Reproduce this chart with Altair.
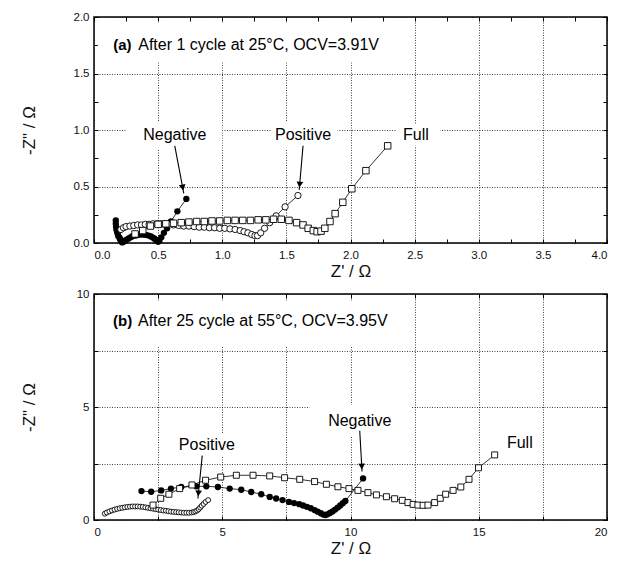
import altair as alt
import pandas as pd

FONT = "Liberation Sans"

# ---------------- Panel (a): after 1 cycle at 25 C ----------------
a_neg_x = [0.17, 0.17, 0.172, 0.175, 0.18, 0.185, 0.19, 0.20, 0.205, 0.21, 0.215, 0.22, 0.23, 0.24,
           0.255, 0.27, 0.285, 0.30, 0.32, 0.34, 0.36, 0.38, 0.40, 0.42, 0.44, 0.455, 0.47, 0.48,
           0.49, 0.50, 0.51, 0.525, 0.545, 0.57, 0.60, 0.65, 0.72]
a_neg_y = [0.20, 0.17, 0.145, 0.12, 0.10, 0.08, 0.06, 0.045, 0.03, 0.02, 0.01, 0.005, 0.01, 0.02,
           0.03, 0.04, 0.05, 0.06, 0.065, 0.07, 0.075, 0.075, 0.072, 0.068, 0.06, 0.05, 0.04, 0.03,
           0.02, 0.01, 0.02, 0.05, 0.09, 0.13, 0.19, 0.28, 0.39]

a_pos_x = [0.21, 0.23, 0.25, 0.28, 0.31, 0.34, 0.37, 0.40, 0.43, 0.46, 0.49, 0.52, 0.55, 0.58,
           0.62, 0.66, 0.70, 0.74, 0.78, 0.82, 0.86, 0.90, 0.94, 0.98, 1.02, 1.06, 1.10, 1.14,
           1.17, 1.20, 1.23, 1.255, 1.275, 1.30, 1.33, 1.37, 1.42, 1.49, 1.59]
a_pos_y = [0.12, 0.135, 0.145, 0.15, 0.155, 0.16, 0.16, 0.165, 0.165, 0.17, 0.17, 0.17, 0.165,
           0.165, 0.16, 0.155, 0.15, 0.15, 0.145, 0.14, 0.14, 0.135, 0.135, 0.13, 0.13, 0.125,
           0.12, 0.11, 0.10, 0.09, 0.075, 0.065, 0.065, 0.09, 0.13, 0.18, 0.24, 0.32, 0.42]

a_full_x = [0.32, 0.38, 0.44, 0.50, 0.56, 0.62, 0.68, 0.74, 0.80, 0.86, 0.92, 0.98, 1.04, 1.10,
            1.16, 1.22, 1.28, 1.34, 1.40, 1.46, 1.52, 1.58, 1.63, 1.67, 1.71, 1.74, 1.77, 1.80,
            1.84, 1.88, 1.94, 2.01, 2.12, 2.29]
a_full_y = [0.08, 0.11, 0.15, 0.165, 0.17, 0.175, 0.18, 0.185, 0.19, 0.19, 0.195, 0.195, 0.20,
            0.20, 0.20, 0.20, 0.205, 0.205, 0.21, 0.21, 0.20, 0.18, 0.16, 0.13, 0.11, 0.10, 0.105,
            0.13, 0.19, 0.26, 0.36, 0.48, 0.64, 0.86]

# ---------------- Panel (b): after 25 cycles at 55 C ----------------
b_neg_x = [1.85, 2.23, 2.62, 3.0, 3.4, 3.99, 4.38, 4.83, 5.29, 5.74, 6.13, 6.52, 6.85, 7.1, 7.35,
           7.6, 7.8, 8.0, 8.15, 8.3, 8.45, 8.6, 8.72, 8.84, 8.94, 9.02, 9.1, 9.2, 9.3, 9.4, 9.5,
           9.6, 9.7, 9.8, 10.49]
b_neg_y = [1.28, 1.25, 1.31, 1.39, 1.46, 1.49, 1.49, 1.46, 1.39, 1.34, 1.24, 1.14, 1.02, 0.95,
           0.88, 0.80, 0.75, 0.70, 0.64, 0.58, 0.52, 0.44, 0.37, 0.30, 0.24, 0.22, 0.25, 0.31,
           0.38, 0.46, 0.55, 0.64, 0.74, 0.84, 1.84]

b_pos_x = [0.42, 0.5, 0.6, 0.7, 0.8, 0.9, 1.0, 1.1, 1.2, 1.3, 1.4, 1.5, 1.6, 1.7, 1.8, 1.9, 2.0,
           2.1, 2.2, 2.3, 2.4, 2.5, 2.6, 2.7, 2.8, 2.9, 3.0, 3.1, 3.2, 3.3, 3.4, 3.5, 3.6, 3.7,
           3.8, 3.88, 3.95, 4.02, 4.08, 4.14, 4.2, 4.27, 4.35, 4.45]
b_pos_y = [0.28, 0.33, 0.38, 0.42, 0.46, 0.49, 0.52, 0.54, 0.56, 0.58, 0.59, 0.60, 0.60, 0.60,
           0.59, 0.58, 0.56, 0.54, 0.52, 0.50, 0.48, 0.46, 0.44, 0.42, 0.41, 0.39, 0.37, 0.36,
           0.35, 0.34, 0.33, 0.32, 0.32, 0.32, 0.33, 0.35, 0.38, 0.42, 0.48, 0.55, 0.63, 0.71,
           0.80, 0.88]

b_full_x = [2.3, 2.6, 2.92, 3.34, 3.82, 4.35, 4.94, 5.55, 6.2, 6.85, 7.43, 8.02, 8.6, 9.06, 9.51,
            9.94, 10.29, 10.68, 11.01, 11.4, 11.72, 12.02, 12.24, 12.44, 12.63, 12.83, 13.02,
            13.28, 13.5, 13.71, 14.0, 14.3, 14.62, 14.99, 15.62]
b_full_y = [0.66, 0.96, 1.14, 1.39, 1.55, 1.76, 1.90, 1.98, 1.98, 1.95, 1.87, 1.80, 1.70, 1.58,
            1.47, 1.39, 1.31, 1.21, 1.11, 1.03, 0.94, 0.87, 0.77, 0.69, 0.66, 0.65, 0.66, 0.77,
            0.96, 1.14, 1.31, 1.46, 1.80, 2.31, 2.88]

# ---------------- axes ----------------
a_x_domain = [0, 4]
a_y_domain = [0, 2]
a_x_grid = [0.0, 0.5, 1.0, 1.5, 2.0, 2.5, 3.0, 3.5, 4.0]
a_y_grid = [0.0, 0.5, 1.0, 1.5, 2.0]
a_x_minor = [i * 0.25 for i in range(17)]
a_y_minor = [i * 0.25 for i in range(9)]

b_x_domain = [0, 20]
b_y_domain = [0, 10]
b_x_grid = [0, 2.5, 5, 7.5, 10, 12.5, 15, 17.5, 20]
b_y_grid = [0, 2.5, 5, 7.5, 10]

x_title = "Z' / Ω"
y_title = '-Z" / Ω'

# ---------------- annotations ----------------
a_tag, a_text = "(a)", "After 1 cycle at 25°C, OCV=3.91V"
a_text_x, a_text_y = 0.15, 1.75
b_tag, b_text = "(b)", "After 25 cycle at 55°C, OCV=3.95V"
b_text_x, b_text_y = 0.74, 8.8

a_lab = ["Negative", "Positive", "Full"]
a_lab_x = [0.63, 1.63, 2.51]
a_lab_y = [0.955, 0.955, 0.955]
a_arr_x = [0.63, 1.63]
a_arr_y = [0.86, 0.86]
a_arr_x2 = [0.70, 1.60]
a_arr_y2 = [0.44, 0.47]
a_arr_ang = [349, 5]

b_lab = ["Negative", "Positive", "Full"]
b_lab_x = [10.36, 4.4, 16.6]
b_lab_y = [4.38, 3.3, 3.42]
b_arr_x = [10.36, 4.22]
b_arr_y = [3.95, 2.85]
b_arr_x2 = [10.45, 4.05]
b_arr_y2 = [2.15, 0.95]
b_arr_ang = [357, 6]

# white masks behind the text (hide the dotted grid there)
a_box_x0 = [0.03, 0.25, 1.38, 2.36]
a_box_x1 = [2.40, 1.00, 1.90, 2.70]
a_box_y0 = [1.60, 0.83, 0.83, 0.86]
a_box_y1 = [1.95, 1.08, 1.08, 1.05]
b_box_x0 = [0.15, 8.40, 3.1, 15.8]
b_box_x1 = [12.2, 12.4, 5.8, 17.4]
b_box_y0 = [7.7, 3.7, 2.79, 3.0]
b_box_y1 = [9.7, 5.1, 3.85, 3.9]

TXT = 16


def sdf(xs, ys, name):
    return pd.DataFrame({"x": xs, "y": ys, "i": list(range(len(xs))), "s": name})


def tick_axis(orient, values):
    return alt.Axis(orient=orient, values=values, ticks=True, tickSize=4, tickWidth=1,
                    tickColor="black", labels=False, domain=False, grid=False, title=None,
                    offset=-4)


def panel(neg, pos, full, xdom, ydom, xgrid, ygrid, xminor, yminor, xlabexpr, ylabexpr,
          boxes, labs, arrs, tag, text, tx, ty, sizes):
    xs = alt.Scale(domain=xdom, nice=False, zero=False)
    ys = alt.Scale(domain=ydom, nice=False, zero=False)
    x_main = alt.Axis(orient="bottom", values=xgrid, labelExpr=xlabexpr, grid=True,
                      gridDash=[1, 1.5], gridColor="#111", gridWidth=0.8, ticks=False,
                      domain=False, labelFont=FONT, labelFontSize=11.5, labelColor="#111",
                      labelPadding=6, title=x_title, titleFont=FONT, titleFontSize=17,
                      titleFontWeight="normal", titlePadding=3, titleColor="#111")
    y_main = alt.Axis(orient="left", values=ygrid, labelExpr=ylabexpr, grid=True,
                      gridDash=[1, 1.5], gridColor="#111", gridWidth=0.8, ticks=False,
                      domain=False, labelFont=FONT, labelFontSize=11.5, labelColor="#111",
                      labelPadding=5, title=y_title, titleFont=FONT, titleFontSize=17,
                      titleFontWeight="normal", minExtent=25, maxExtent=25,
                      titlePadding=31, titleColor="#111")

    box_df = pd.DataFrame({"x0": boxes[0], "x1": boxes[1], "y0": boxes[2], "y1": boxes[3]})
    box = alt.Chart(box_df).mark_rect(fill="white", strokeWidth=0).encode(
        x=alt.X("x0:Q", scale=xs, axis=x_main), x2="x1:Q",
        y=alt.Y("y0:Q", scale=ys, axis=y_main), y2="y1:Q")

    all_df = pd.concat([neg, pos, full], ignore_index=True)
    lines = alt.Chart(all_df).mark_line(color="black", strokeWidth=0.8).encode(
        x=alt.X("x:Q", scale=xs, axis=tick_axis("bottom", xminor)),
        y=alt.Y("y:Q", scale=ys, axis=tick_axis("left", yminor)),
        detail="s:N", order="i:Q")

    p_neg = alt.Chart(neg).mark_point(shape="circle", filled=True, color="black",
                                      size=sizes[0], opacity=1).encode(
        x=alt.X("x:Q", scale=xs, axis=tick_axis("top", xminor)),
        y=alt.Y("y:Q", scale=ys, axis=tick_axis("right", yminor)))
    p_pos = alt.Chart(pos).mark_point(shape="circle", filled=True, fill="white",
                                      stroke="black", strokeWidth=0.9, size=sizes[1],
                                      opacity=1).encode(
        x=alt.X("x:Q", scale=xs, axis=None), y=alt.Y("y:Q", scale=ys, axis=None))
    p_full = alt.Chart(full).mark_point(shape="square", filled=True, fill="white",
                                        stroke="black", strokeWidth=0.9, size=sizes[2],
                                        opacity=1).encode(
        x=alt.X("x:Q", scale=xs, axis=None), y=alt.Y("y:Q", scale=ys, axis=None))

    arr_df = pd.DataFrame({"x": arrs[0], "y": arrs[1], "x2": arrs[2], "y2": arrs[3],
                           "ang": arrs[4]})
    arr_df["hx"] = arr_df["x2"] + 0.12 * (arr_df["x"] - arr_df["x2"])
    arr_df["hy"] = arr_df["y2"] + 0.12 * (arr_df["y"] - arr_df["y2"])
    arr = alt.Chart(arr_df).mark_rule(color="black", strokeWidth=1.1).encode(
        x=alt.X("x:Q", scale=xs, axis=None), y=alt.Y("y:Q", scale=ys, axis=None),
        x2="x2:Q", y2="y2:Q")
    heads = alt.Chart(arr_df).mark_point(shape="triangle-down", filled=True, color="black",
                                         size=45, opacity=1).encode(
        x=alt.X("hx:Q", scale=xs, axis=None), y=alt.Y("hy:Q", scale=ys, axis=None),
        angle=alt.Angle("ang:Q", scale=None))

    lab_df = pd.DataFrame({"t": labs[0], "x": labs[1], "y": labs[2]})
    lab = alt.Chart(lab_df).mark_text(font=FONT, fontSize=TXT, color="black", align="center",
                                      baseline="middle").encode(
        x=alt.X("x:Q", scale=xs, axis=None), y=alt.Y("y:Q", scale=ys, axis=None), text="t:N")

    ttl_df = pd.DataFrame({"t": [tag], "r": [text], "x": [tx], "y": [ty]})
    ttl_tag = alt.Chart(ttl_df).mark_text(font=FONT, fontSize=TXT - 1, fontWeight="bold",
                                          color="black", align="left",
                                          baseline="middle").encode(
        x=alt.X("x:Q", scale=xs, axis=None), y=alt.Y("y:Q", scale=ys, axis=None), text="t:N")
    ttl_rest = alt.Chart(ttl_df).mark_text(font=FONT, fontSize=TXT, color="black",
                                           align="left", baseline="middle", dx=25).encode(
        x=alt.X("x:Q", scale=xs, axis=None), y=alt.Y("y:Q", scale=ys, axis=None), text="r:N")

    return alt.layer(box, lines, p_neg, p_pos, p_full, arr, heads, lab, ttl_tag,
                     ttl_rest).resolve_axis(x="independent", y="independent").properties(
        width=513, height=226)


pa = panel(sdf(a_neg_x, a_neg_y, "neg"), sdf(a_pos_x, a_pos_y, "pos"),
           sdf(a_full_x, a_full_y, "full"), a_x_domain, a_y_domain, a_x_grid, a_y_grid,
           a_x_minor, a_y_minor, "format(datum.value, '.1f')", "format(datum.value, '.1f')",
           (a_box_x0, a_box_x1, a_box_y0, a_box_y1), (a_lab, a_lab_x, a_lab_y),
           (a_arr_x, a_arr_y, a_arr_x2, a_arr_y2, a_arr_ang), a_tag, a_text, a_text_x,
           a_text_y, (40, 40, 42))

pb = panel(sdf(b_neg_x, b_neg_y, "neg"), sdf(b_pos_x, b_pos_y, "pos"),
           sdf(b_full_x, b_full_y, "full"), b_x_domain, b_y_domain, b_x_grid, b_y_grid,
           b_x_grid, b_y_grid, "datum.value % 5 == 0 ? format(datum.value, 'd') : ''",
           "datum.value % 5 == 0 ? format(datum.value, 'd') : ''",
           (b_box_x0, b_box_x1, b_box_y0, b_box_y1), (b_lab, b_lab_x, b_lab_y),
           (b_arr_x, b_arr_y, b_arr_x2, b_arr_y2, b_arr_ang), b_tag, b_text, b_text_x,
           b_text_y, (40, 24, 36))

chart = alt.vconcat(pa, pb, spacing=6).properties(
    padding={"left": 11, "top": 2, "right": 4, "bottom": 0},
    background="white",
).configure_view(stroke="black", strokeWidth=1.5)

chart.save("out.html", embed_options={"renderer": "svg", "actions": False})
